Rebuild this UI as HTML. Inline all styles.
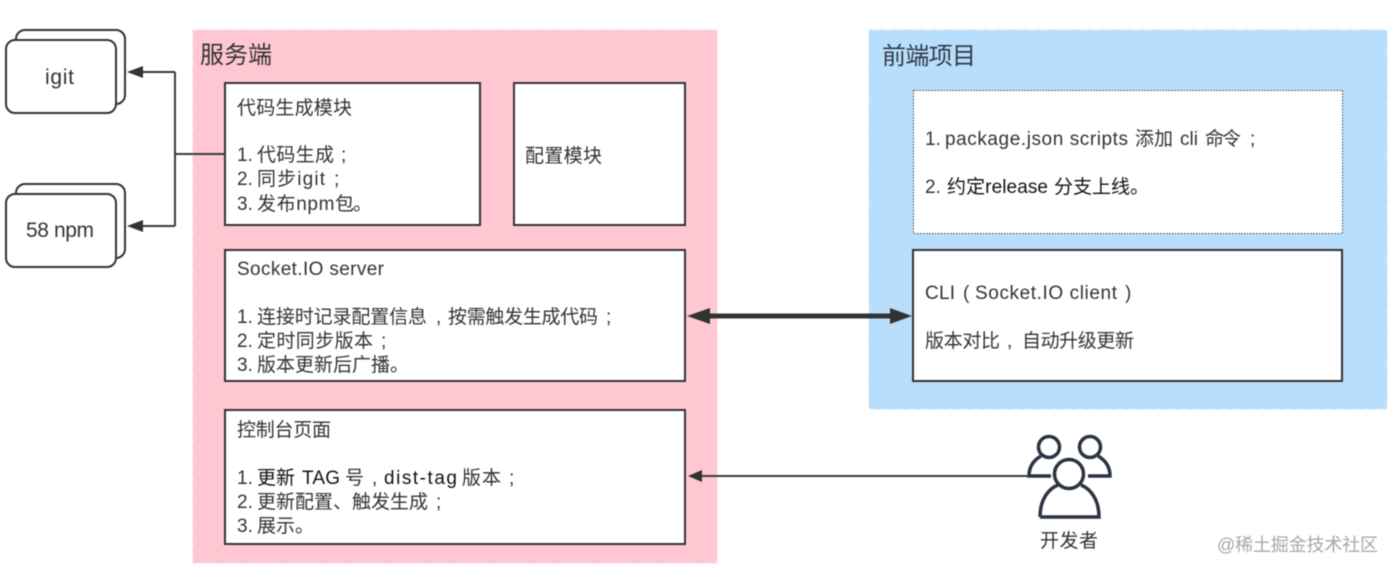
<!DOCTYPE html>
<html><head><meta charset="utf-8">
<style>
html,body{margin:0;padding:0;background:#fff;width:1395px;height:573px;overflow:hidden}
svg{display:block;filter:blur(.5px)}
text{font-family:"Liberation Sans","Noto Sans CJK SC",sans-serif;font-size:19px;fill:#333}
.d{fill:#111}
</style></head><body>
<svg width="1395" height="573" viewBox="0 0 1395 573" xmlns="http://www.w3.org/2000/svg">
<rect width="1395" height="573" fill="#fff"/>
<rect x="192.500" y="29.500" width="525" height="534" fill="#ffc7d1" stroke="#fff" stroke-opacity=".55" stroke-width="1.500" stroke-dasharray="8 5"/>
<rect x="868.500" y="29.500" width="519" height="380" rx="3" fill="#b9defc" stroke="#fff" stroke-opacity=".55" stroke-width="1.500" stroke-dasharray="8 5"/>
<g fill="#fff" stroke="#333" stroke-width="2">
<rect x="16" y="30" width="109" height="74" rx="9"/>
<rect x="6" y="40" width="110" height="73" rx="9"/>
<rect x="16" y="184" width="109" height="74" rx="9"/>
<rect x="6" y="194" width="110" height="73" rx="9"/>
<rect x="225" y="83" width="255" height="142"/>
<rect x="514" y="83" width="171" height="142"/>
<rect x="225" y="250" width="460" height="131"/>
<rect x="225" y="410" width="460" height="134"/>
<rect x="913" y="250" width="429" height="131"/>
</g>
<rect x="913.500" y="90.500" width="429" height="143" fill="#fff" stroke="#444" stroke-width="1" stroke-dasharray="1.500 1.500"/>
<g fill="none" stroke="#3a3a3a" stroke-width="2">
<path d="M225 154H175M175 72V226M175 72H140M175 226H140"/>
<path d="M1028 476H700"/>
</g>
<path d="M127 72L143 66V78Z M127 226L143 220V232Z M688 476L702 470V482Z" fill="#333"/>
<path d="M700 316H900" stroke="#333" stroke-width="5"/>
<path d="M687 316L710 308V324Z M912 316L890 308V324Z" fill="#333"/>
<g fill="none" stroke="#2b3440" stroke-width="3.500">
<circle cx="1049" cy="447" r="10.500"/>
<circle cx="1090" cy="447" r="10.500"/>
<circle cx="1069" cy="474" r="14.500"/>
<path d="M1051 476H1029C1029 466 1034 460 1041 456"/>
<path d="M1088 476H1110C1110 466 1105 460 1098 456"/>
<path d="M1040 517H1099C1099 500 1091 489 1081 485M1040 517C1040 500 1048 489 1058 485"/>
</g>
<text x="200" y="63" style="font-size:24px" textLength="72">服务端</text>
<text x="882" y="64" style="font-size:24px;fill:#2f3b47" textLength="94">前端项目</text>
<text x="45" y="84" style="font-size:21px" textLength="29">igit</text>
<text x="26" y="237" style="font-size:21px" textLength="68">58 npm</text>

<text x="237" y="114" textLength="115">代码生成模块</text>
<text x="237" y="161">1.</text><text x="257" y="161" textLength="77">代码生成</text><text x="341" y="161">;</text>
<text x="237" y="185">2.</text><text x="257" y="185" textLength="68">同步igit</text><text x="334" y="185">;</text>
<text x="237" y="210">3.</text><text x="257" y="210" textLength="97">发布npm包</text><text x="353" y="210">。</text>
<text x="525" y="162" textLength="77">配置模块</text>

<text x="237" y="275" textLength="147">Socket.IO server</text>
<text x="237" y="323">1.</text><text x="257" y="323" textLength="170">连接时记录配置信息</text><text x="436" y="323">,</text><text x="448" y="323" textLength="150">按需触发生成代码</text><text x="606" y="323">;</text>
<text x="237" y="347">2.</text><text x="257" y="347" textLength="116">定时同步版本</text><text x="381" y="347">;</text>
<text x="237" y="371">3.</text><text x="257" y="371" textLength="133">版本更新后广播</text><text x="390" y="371">。</text>

<text x="237" y="436" textLength="94">控制台页面</text>
<text x="237" y="484">1.</text><text class="d" x="257" y="484" textLength="38">更新</text><text class="d" x="302" y="484" textLength="38">TAG</text><text x="345" y="484" textLength="20">号</text><text x="372" y="484">,</text><text class="d" x="384" y="484" textLength="73">dist-tag</text><text x="462" y="484" textLength="39">版本</text><text x="509" y="484">;</text>
<text x="237" y="508">2.</text><text x="257" y="508" textLength="171">更新配置、触发生成</text><text x="436" y="508">;</text>
<text x="237" y="532">3.</text><text x="257" y="532" textLength="38">展示</text><text x="295" y="532">。</text>

<text x="925" y="145">1.</text><text x="945" y="145" textLength="183">package.json scripts</text><text x="1135" y="145" textLength="38">添加</text><text x="1180" y="145" textLength="18">cli</text><text x="1205" y="145" textLength="36">命令</text><text x="1250" y="145">;</text>
<text x="925" y="193">2.</text><text class="d" x="947" y="193" textLength="101">约定release</text><text class="d" x="1054" y="193" textLength="76">分支上线</text><text class="d" x="1130" y="193">。</text>

<text x="925" y="299" textLength="30">CLI</text><text x="963" y="299">(</text><text x="975" y="299" textLength="142">Socket.IO client</text><text x="1125" y="299">)</text>
<text x="925" y="347" textLength="75">版本对比</text><text x="1007" y="347">,</text><text x="1022" y="347" textLength="112">自动升级更新</text>

<text x="1040" y="547" textLength="58">开发者</text>
<text x="1217" y="551" style="font-size:18px;fill:#a8a8a8" textLength="161">@稀土掘金技术社区</text>
</svg>
</body></html>
